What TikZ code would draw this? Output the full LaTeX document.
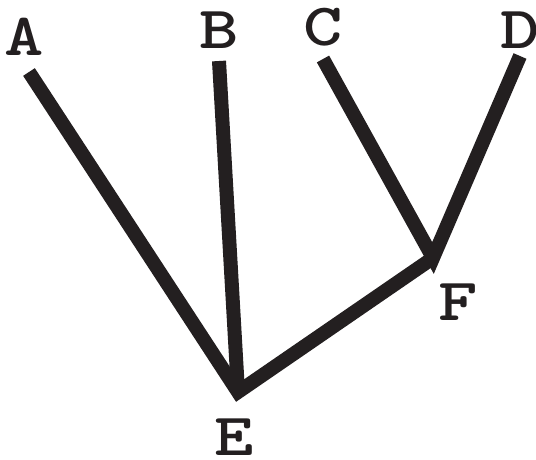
\documentclass[tikz,border=0pt]{standalone}
\usepackage{fontspec}
\newcommand{\widetype}[1]{\scalebox{1.25}[1]{#1}}

\begin{document}
\begin{tikzpicture}[x=1pt, y=-1pt,
  branch/.style={line width=14pt, draw={rgb,255:red,35;green,31;blue,32}, line join=miter},
  leaf/.style={inner sep=0pt, font=\fontsize{60}{60}\selectfont\ttfamily\bfseries, text={rgb,255:red,35;green,31;blue,32}}]
  \useasboundingbox (0,0) rectangle (536,460);
  % Tree points
  \coordinate (a) at (29,72);
  \coordinate (b) at (219,61);
  \coordinate (c) at (323,59);
  \coordinate (d) at (520,56);
  \coordinate (e) at (238,392);
  \coordinate (f) at (433,258);
  % Branches
  \draw[branch] (c) -- (f) -- (d);
  \draw[branch] (a) -- (e) -- (f);
  \draw[branch] (b) -- (e);
  % Labels
  \node[leaf] (A) at (24,37) {\widetype{A}};
  \node[leaf] (B) at (219,30) {\widetype{B}};
  \node[leaf] (C) at (323,27) {\widetype{C}};
  \node[leaf] (D) at (520,30) {\widetype{D}};
  \node[leaf] (E) at (234,437) {\widetype{E}};
  \node[leaf] (F) at (458,302) {\widetype{F}};
\end{tikzpicture}
\end{document}
